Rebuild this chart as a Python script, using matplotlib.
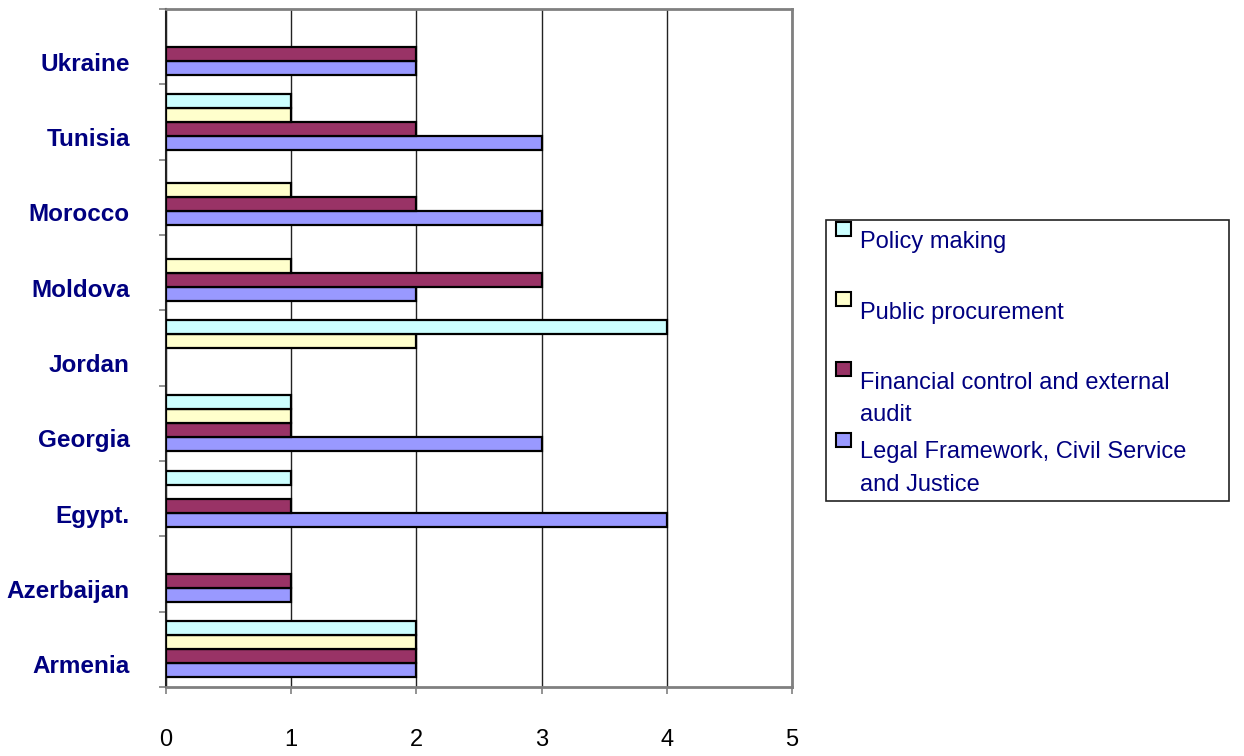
import matplotlib
matplotlib.use("Agg")
import matplotlib.pyplot as plt
import numpy as np
from matplotlib.patches import Rectangle
from matplotlib.transforms import ScaledTranslation
from matplotlib.ticker import FixedLocator

plt.rcParams['font.family'] = ['Liberation Sans', 'DejaVu Sans']

countries = ["Armenia", "Azerbaijan", "Egypt.", "Georgia", "Jordan",
             "Moldova", "Morocco", "Tunisia", "Ukraine"]
series_names = ["Legal Framework, Civil Service\nand Justice",
                "Financial control and external\naudit",
                "Public procurement",
                "Policy making"]
legal     = [2, 1, 4, 3, 0, 2, 3, 3, 2]
financial = [2, 1, 1, 1, 0, 3, 2, 2, 2]
procure   = [2, 0, 0, 1, 2, 1, 1, 1, 0]
policy    = [2, 0, 1, 1, 4, 0, 0, 1, 0]
x_ticks = [0, 1, 2, 3, 4, 5]

colors = ["#9999FF", "#993366", "#FFFFCC", "#CCFFFF"]
navy = "#000080"

W, H = 1244, 756
fig = plt.figure(figsize=(W / 100, H / 100), dpi=100)
L, R, T, B = 166, 792, 9, 687
ax = fig.add_axes([L / W, 1 - B / H, (R - L) / W, (B - T) / H])

y = np.arange(len(countries))
h = 0.186
data = [legal, financial, procure, policy]
for j, (vals, c) in enumerate(zip(data, colors)):
    vals = np.array(vals, dtype=float)
    mask = vals > 0
    ax.barh(y[mask] - 1.5 * h + j * h, vals[mask], height=h, color=c,
            edgecolor="black", linewidth=1.6, zorder=3)

ax.set_xlim(0, 5)
ax.set_ylim(-0.5, len(countries) - 0.5)
ax.set_xticks(x_ticks)
ax.set_xticklabels([str(v) for v in x_ticks], fontsize=17, color="black")
ax.xaxis.grid(True, color="#222222", linewidth=1.0, zorder=0)
ax.set_axisbelow(True)

ax.set_yticks(y)
ax.set_yticklabels(countries, fontsize=17.5, fontweight="bold", color=navy)
ax.yaxis.set_minor_locator(FixedLocator(np.arange(-0.5, len(countries), 1.0)))
ax.tick_params(axis="y", which="major", length=0, pad=26)
ax.tick_params(axis="y", which="minor", length=5, width=1.2, color="#808080", direction="out")
ax.tick_params(axis="x", which="major", length=5, width=1.2, color="#808080",
               direction="out", pad=25)
offset = ScaledTranslation(0, -0.15, fig.dpi_scale_trans)
for lab in ax.get_yticklabels():
    lab.set_transform(lab.get_transform() + offset)

for s in ["top", "right", "bottom"]:
    ax.spines[s].set_color("#808080")
    ax.spines[s].set_linewidth(2)
ax.spines["left"].set_color("#222222")
ax.spines["left"].set_linewidth(1.5)

# legend (manual, in pixel coordinates)
def fx(px): return px / W
def fy(py): return 1 - py / H

fig.patches.append(Rectangle((fx(826), fy(501)), fx(1229) - fx(826), fy(220) - fy(501),
                             transform=fig.transFigure, fill=False,
                             edgecolor="#222222", linewidth=1.2))
entries = [
    (series_names[3], colors[3], 222, 242),
    (series_names[2], colors[2], 292, 313),
    (series_names[1], colors[1], 362, 399),
    (series_names[0], colors[0], 433, 468.5),
]
for label, c, mtop, tcen in entries:
    fig.patches.append(Rectangle((fx(836), fy(mtop + 14)), fx(851) - fx(836), fy(mtop) - fy(mtop + 14),
                                 transform=fig.transFigure, facecolor=c,
                                 edgecolor="black", linewidth=1.5))
    fig.text(fx(860), fy(tcen), label, fontsize=17, color=navy, va="center",
             ha="left", linespacing=1.6)

fig.savefig("out.png", dpi=100)
